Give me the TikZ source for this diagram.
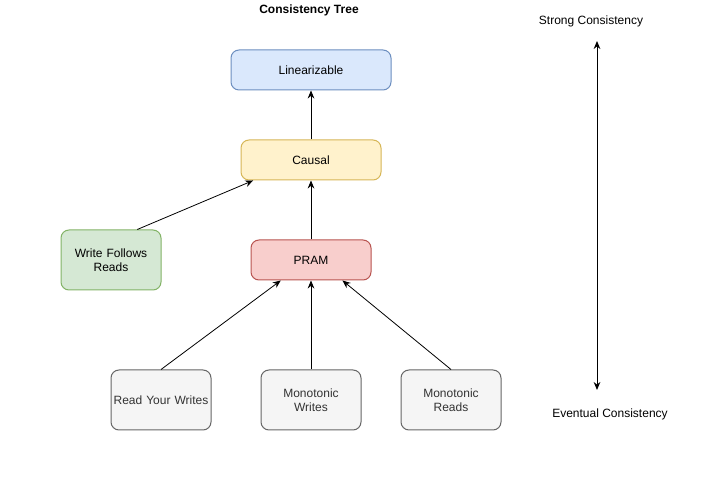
\documentclass[tikz,border=0pt]{standalone}
\usepackage{fontspec}
\setmainfont{Liberation Sans}
\usepackage{tikz}
\usetikzlibrary{arrows.meta, calc}

\definecolor{blueFill}{HTML}{DAE8FC}
\definecolor{blueLine}{HTML}{6C8EBF}
\definecolor{yellowFill}{HTML}{FFF2CC}
\definecolor{yellowLine}{HTML}{D6B656}
\definecolor{greenFill}{HTML}{D5E8D4}
\definecolor{greenLine}{HTML}{82B366}
\definecolor{redFill}{HTML}{F8CECC}
\definecolor{redLine}{HTML}{B85450}
\definecolor{grayFill}{HTML}{F5F5F5}
\definecolor{grayLine}{HTML}{666666}
\definecolor{grayText}{HTML}{333333}

\tikzset{
  level/.style={draw, line width=0.75pt, rounded corners=6pt, align=center,
    font=\fontsize{9}{10.5}\selectfont, inner sep=0pt},
  wide/.style={level, minimum width=120pt, minimum height=30pt},
  tall/.style={level, minimum width=75pt, minimum height=45pt, text width=75pt},
  link/.style={line width=0.6pt, -{Stealth[length=6pt, width=5pt]}},
  label/.style={font=\fontsize{9}{10.5}\selectfont}
}

\begin{document}
\begin{tikzpicture}[x=0.75pt, y=-0.75pt]
  \useasboundingbox (0,0) rectangle (725,498);

  % === Titre ===
  \node[label, font=\bfseries\fontsize{9}{10.5}\selectfont] (title) at (309,10) {Consistency Tree};

  % === Niveaux du haut ===
  \node[wide, fill=blueFill, draw=blueLine] (lin) at (311,70) {Linearizable};
  \node[wide, fill=yellowFill, draw=yellowLine, minimum width=105pt] (causal) at (311,160) {Causal};
  \node[wide, fill=redFill, draw=redLine, minimum width=90pt] (pram) at (311,260) {PRAM};
  \node[tall, fill=greenFill, draw=greenLine] (wfr) at (111,260) {Write Follows\\Reads};

  % === Garanties de session (bas) ===
  \node[tall, fill=grayFill, draw=grayLine, text=grayText] (ryw) at (161,400) {Read Your Writes};
  \node[tall, fill=grayFill, draw=grayLine, text=grayText] (mw) at (311,400) {Monotonic\\Writes};
  \node[tall, fill=grayFill, draw=grayLine, text=grayText] (mr) at (451,400) {Monotonic\\Reads};

  % flèches vers le haut
  \draw[link] (causal.north) -- (lin.south);
  \draw[link] (pram.north) -- (causal.south);
  \draw[link] ($(wfr.north west)!0.76!(wfr.north east)$) -- ($(causal.south west)!0.09!(causal.south east)$);
  \draw[link] (mw.north) -- (pram.south);
  \draw[link] (ryw.north) -- ($(pram.south west)!0.25!(pram.south east)$);
  \draw[link] (mr.north) -- ($(pram.south west)!0.76!(pram.south east)$);

  % === Échelle de cohérence (droite) ===
  \node[label] (strong) at (591,21) {Strong Consistency};
  \node[label] (eventual) at (610,414) {Eventual Consistency};
  \coordinate (top) at (597,41);
  \coordinate (bottom) at (597,390);
  \draw[line width=0.75pt, {Stealth[length=6pt, width=5pt]}-{Stealth[length=6pt, width=5pt]}] (top) -- (bottom);
\end{tikzpicture}
\end{document}
